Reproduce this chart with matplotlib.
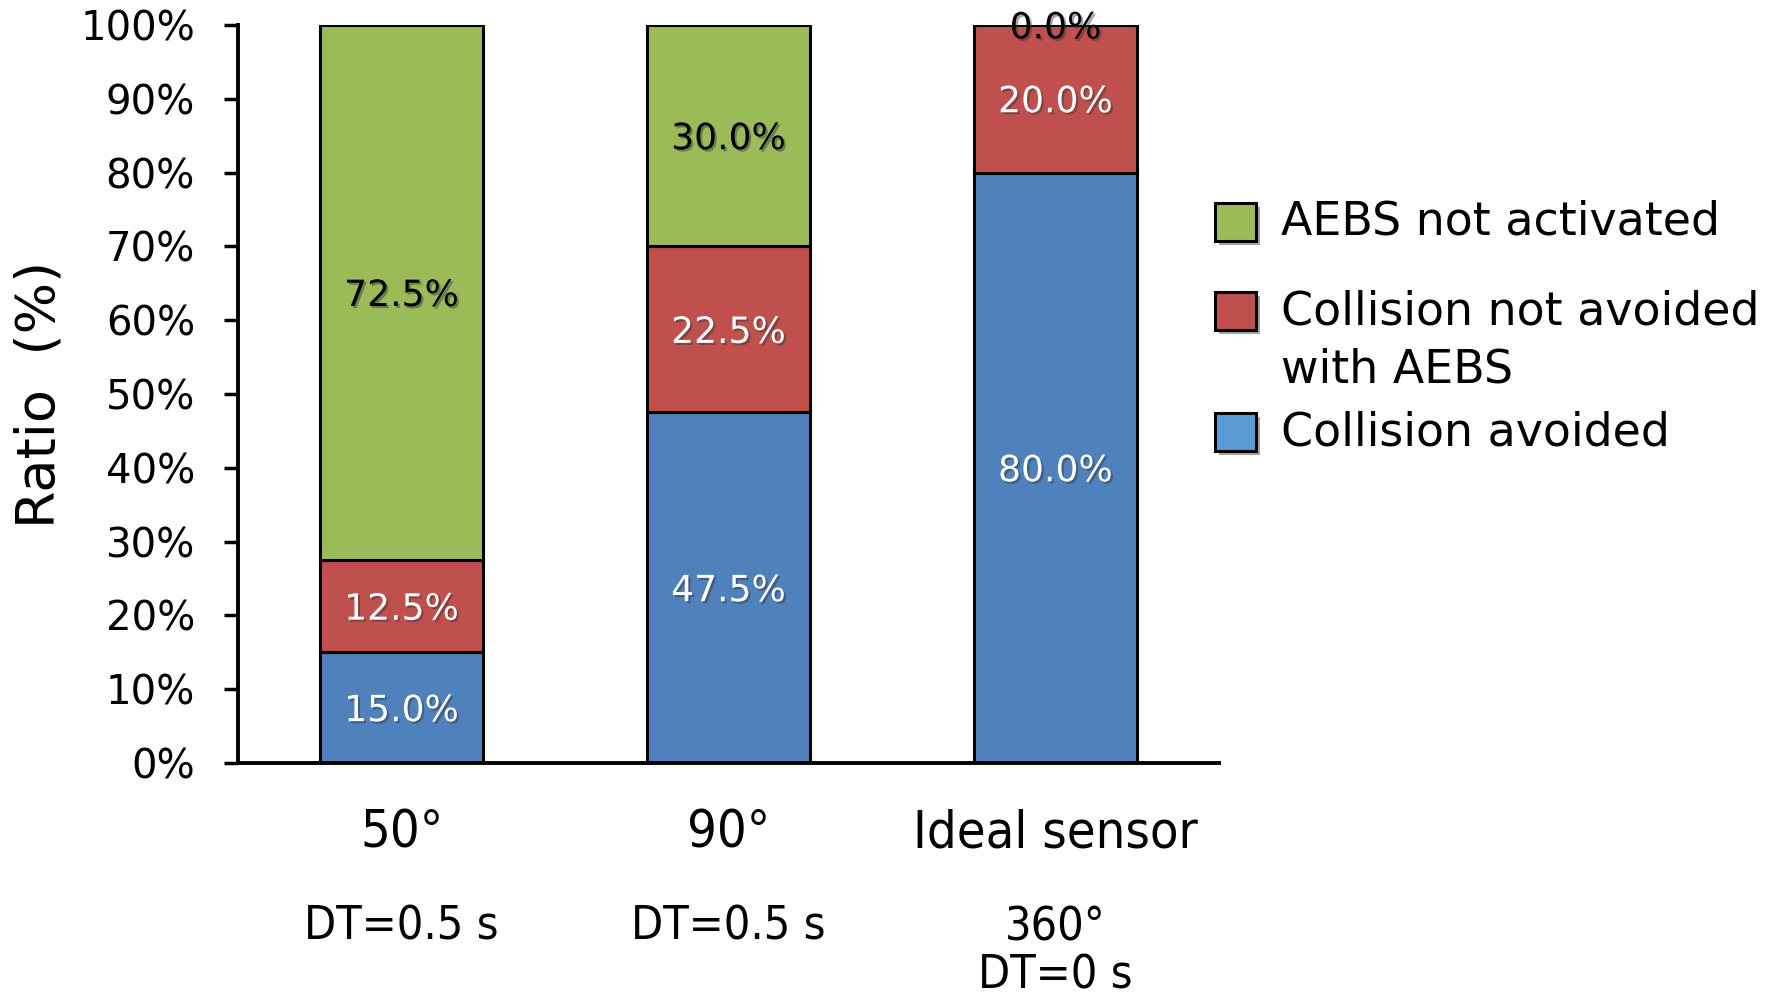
import numpy as np
import matplotlib.pyplot as plt
import matplotlib.patheffects as pe
from matplotlib.patches import Rectangle

# Sensor configurations and outcome shares (%)
categories = ['50°', '90°', 'Ideal sensor']
sublabels = ['DT=0.5 s', 'DT=0.5 s', '360°\nDT=0 s']
avoided = [15.0, 47.5, 80.0]
not_avoided = [12.5, 22.5, 20.0]
not_activated = [72.5, 30.0, 0.0]
series_names = ['AEBS not activated', 'Collision not avoided\nwith AEBS', 'Collision avoided']

c_green = '#9BBB59'
c_red = '#C0504D'
c_blue = '#4F81BD'
c_blue_legend = '#5B9BD5'

plt.rcParams['font.family'] = ['DejaVu Sans']

fig = plt.figure(figsize=(17.77, 9.97), dpi=100)
ax = fig.add_axes([0.134, 0.2347, 0.552, 0.7403])

x = np.arange(len(categories))
w = 0.5
shadow = [pe.SimplePatchShadow(offset=(1.5, -1.5), shadow_rgbFace='0.2', alpha=0.45), pe.Normal()]

stack = [(avoided, c_blue, 'white'), (not_avoided, c_red, 'white'), (not_activated, c_green, 'black')]
bottom = np.zeros(len(categories))
for vals, col, tcol in stack:
    vals = np.array(vals)
    ax.bar(x, vals, w, bottom=bottom, color=col, edgecolor='black', linewidth=2.2, zorder=2)
    for xi, b, v in zip(x, bottom, vals):
        ax.text(xi, b + v / 2, f'{v:.1f}%', ha='center', va='center_baseline', fontsize=26,
                color=tcol, path_effects=shadow, zorder=5)
    bottom += vals

ax.set_xlim(-0.5, 2.5)
ax.set_ylim(0, 100)
ax.set_yticks(np.arange(0, 101, 10))
ax.set_yticklabels([f'{t}%' for t in range(0, 101, 10)])
ax.tick_params(axis='y', labelsize=29, length=10, width=2.5, pad=21, direction='out')
ax.set_xticks([])
for s in ['top', 'right']:
    ax.spines[s].set_visible(False)
for s in ['left', 'bottom']:
    ax.spines[s].set_linewidth(2.8)

fig.text(0.0225, 0.604, 'Ratio  (%)', rotation=90, ha='center', va='center', fontsize=39)

# category names and sensor details under the axis
trans = ax.get_xaxis_transform()
for xi, cat, sub in zip(x, categories, sublabels):
    ax.text(xi, -0.0949, cat, transform=trans, ha='center', va='center',
            fontsize=37.5, fontstretch='condensed', clip_on=False)
    ax.text(xi, -0.222 if '\n' not in sub else -0.256, sub, transform=trans, ha='center',
            va='center', fontsize=33.5, fontstretch='condensed', clip_on=False, linespacing=1.1)

# legend drawn by hand so the swatch lines up with the first text line
W, H = 1777, 997
legend_rows = [(c_green, 222, 222), (c_red, 311, 341), (c_blue_legend, 432, 433)]
patch_shadow = [pe.SimplePatchShadow(offset=(3, -3), shadow_rgbFace='0.3', alpha=0.5), pe.Normal()]
for (col, py, ty), name in zip(legend_rows, series_names):
    r = Rectangle((1215 / W, 1 - (py + 19) / H), 41 / W, 38 / H, transform=fig.transFigure,
                  facecolor=col, edgecolor='black', linewidth=2.2, path_effects=patch_shadow)
    fig.patches.append(r)
    fig.text(1281 / W, 1 - ty / H, name, ha='left', va='center', fontsize=33, linespacing=1.35)

fig.savefig('out.png', dpi=100)
